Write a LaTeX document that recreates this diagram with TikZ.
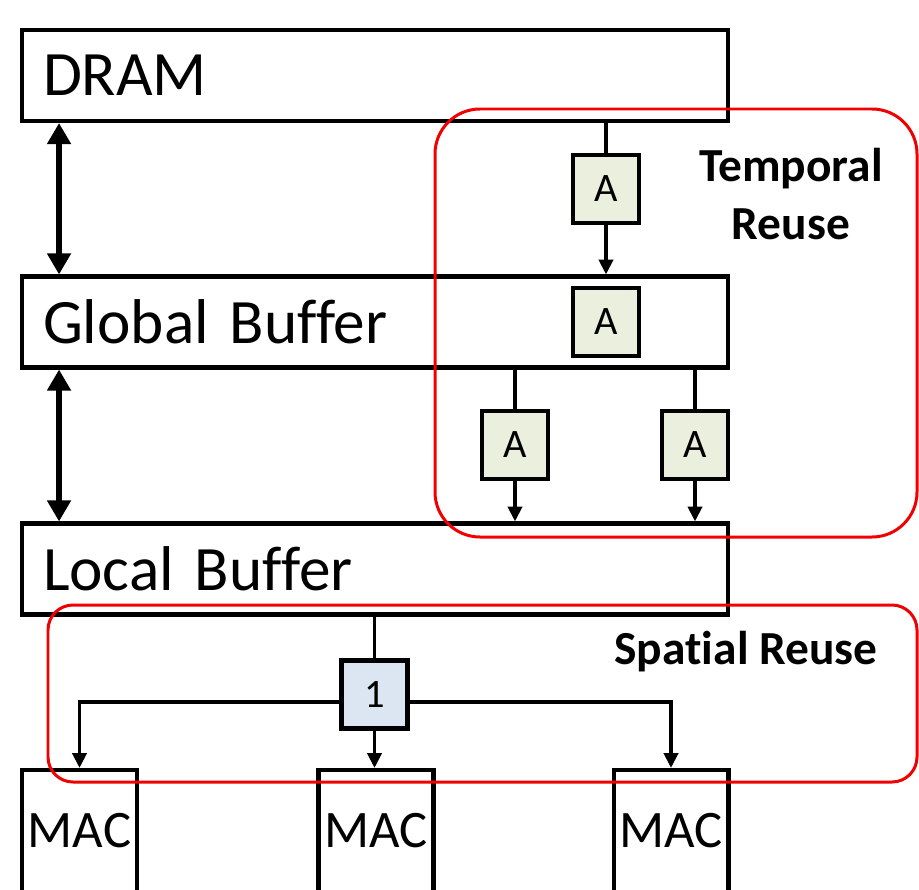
\documentclass[tikz,border=0pt]{standalone}
\usepackage{fontspec}
\setmainfont{Carlito}[Ligatures=NoCommon]
\usetikzlibrary{arrows.meta}
\usetikzlibrary{calc}
\usepackage{xcolor}

\definecolor{tgreen}{RGB}{235,240,222}
\definecolor{sblue}{RGB}{220,230,242}
\definecolor{rred}{RGB}{240,0,0}

\tikzset{
 membox/.style={draw, line width=2.3pt, inner xsep=0.42cm, inner ysep=0pt,
   minimum height=1.82cm, text width=13.28cm, align=left,
   font=\fontsize{36}{40}\selectfont},
 tile/.style={draw, line width=2.5pt, fill=tgreen, inner sep=0pt,
   minimum width=1.32cm, minimum height=1.36cm, font=\fontsize{23}{26}\selectfont},
 macbox/.style={draw, line width=2.3pt, inner sep=0pt, minimum width=2.3cm,
   minimum height=2.44cm, font=\fontsize{30}{32}\selectfont},
 conn/.style={line width=2.1pt},
 arr/.style={-{Triangle[width=8pt,length=8.5pt]}},
 dbl/.style={line width=3.8pt, {Triangle[width=13pt,length=12pt]}-{Triangle[width=13pt,length=12pt]}},
 reuse/.style={draw=rred, line width=1.7pt},
 reuselabel/.style={align=center, inner sep=0pt, font=\bfseries\fontsize{27}{33.5}\selectfont}
}

\begin{document}
\begin{tikzpicture}[x=0.02cm, y=-0.02cm]
\useasboundingbox (0,0) rectangle (919,889);
% memory levels
\node[membox] (dram) at (375,75.5) {DRAM};
\node[membox] (gbuf) at (375,322) {Global Buffer};
\node[membox] (lbuf) at (375,569) {Local Buffer};
% tiles
\node[tile] (a1) at (606,189) {A};
\node[tile] (a2) at (606,322) {A};
\node[tile] (a3) at (515,445) {A};
\node[tile] (a4) at (695,445) {A};
\node[tile, fill=sblue] (one) at (374.5,694.5) {1};
% MACs
\foreach \x/\n in {79.5/1, 376/2, 671/3}
 \node[macbox] (mac\n) at (\x,831) {MAC};

% links between levels
\draw[dbl] ([xshift=0.78cm]dram.south west) -- ([xshift=0.78cm]gbuf.north west);
\draw[dbl] ([xshift=0.78cm]gbuf.south west) -- ([xshift=0.78cm]lbuf.north west);

% temporal path
\draw[conn] (a1.north |- dram.south) -- (a1.north);
\draw[conn,arr] (a1.south) -- (a1.south |- gbuf.north);
\foreach \t in {a3,a4} {
 \draw[conn] (\t.north |- gbuf.south) -- (\t.north);
 \draw[conn,arr] (\t.south) -- (\t.south |- lbuf.north);
 }

% spatial path
\draw[conn] (one.north |- lbuf.south) -- (one.north);
\draw[conn,arr] (one.south) -- (one.south |- mac2.north);
\draw[conn,arr] ([yshift=-0.15cm]one.west) -| (mac1.north);
\draw[conn,arr] ([yshift=-0.15cm]one.east) -| (mac3.north);

% reuse regions
\draw[reuse, rounded corners=0.9cm] (435,109) rectangle (917,537);
\draw[reuse, rounded corners=0.5cm] (48,605) rectangle (917,782);
\node[reuselabel] (treuse) at (791,194) {Temporal\\Reuse};
\node[reuselabel] (sreuse) at (746,652) {Spatial Reuse};
\end{tikzpicture}
\end{document}
